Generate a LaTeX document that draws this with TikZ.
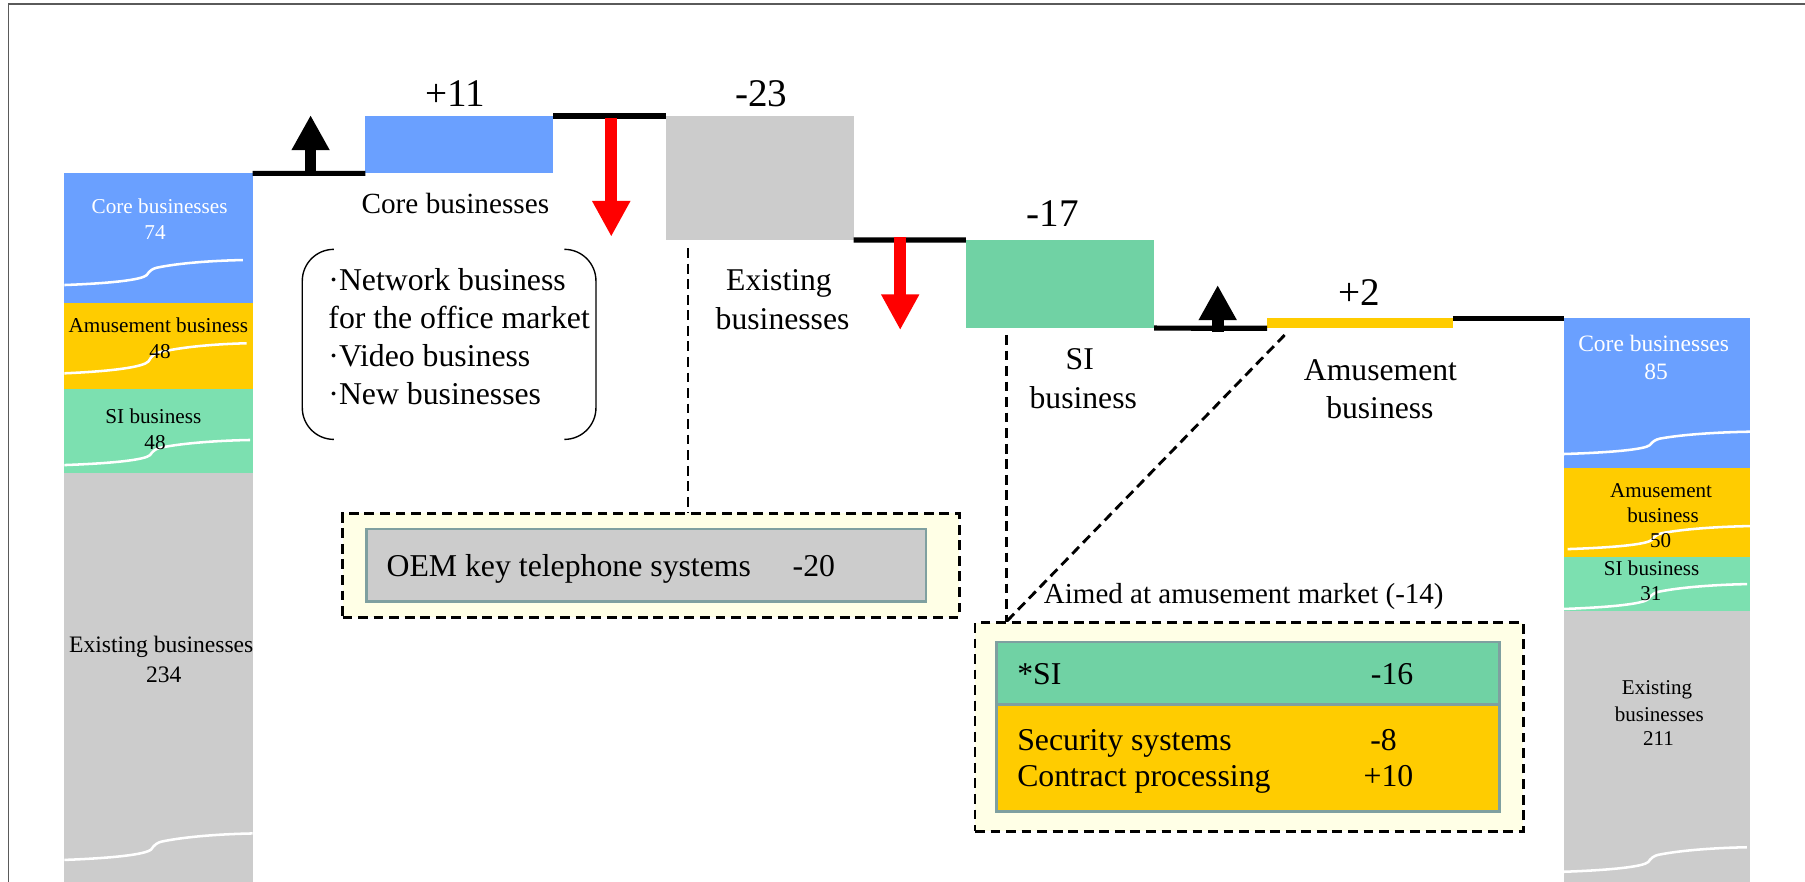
\documentclass[tikz,border=0pt]{standalone}
\usepackage{fontspec}
\setmainfont{Liberation Serif}
\usetikzlibrary{arrows.meta}
\definecolor{cblue}{RGB}{106,160,255}
\definecolor{cyel}{RGB}{255,204,0}
\definecolor{cgrnbar}{RGB}{124,224,176}
\definecolor{cgrn}{RGB}{112,210,164}
\definecolor{cgry}{RGB}{204,204,204}
\definecolor{cred}{RGB}{255,0,0}
\definecolor{cpale}{RGB}{255,255,230}
\definecolor{cbord}{RGB}{127,160,160}
\definecolor{cframe}{RGB}{90,90,90}
\newcommand\fsz[1]{\fontsize{#1}{#1}\selectfont}
\newcommand\rect[6]{\node[barbox, fill=#6, minimum width={(#4-#2)*1pt}, minimum height={(#5-#3)*1pt}] (#1) at (#2,#3) {};}
\newcommand\brk[4]{\draw[brkline, shift={(#1,#2)}, xscale=#3/155, yscale=#4/22] (0,0) .. controls (40,-1.5) and (67,-4.5) .. (71.5,-8.7) .. controls (74,-12.5) and (76.5,-14.3) .. (80,-15.2) .. controls (100,-19.5) and (130,-21.5) .. (155,-22);}
\begin{document}
\begin{tikzpicture}[x=1pt,y=-1pt,
  every node/.style={inner sep=0pt,outer sep=0pt},
  barbox/.style={anchor=north west, draw=none},
  txt/.style={anchor=base},
  ltxt/.style={anchor=base west},
  stepln/.style={line width=4.5pt, black},
  brkline/.style={white, line width=2.2pt},
  dsh/.style={line width=2.5pt, dash pattern=on 8.5pt off 5pt},
  dashbox/.style={anchor=north west, draw=black, fill=cpale, dsh},
  innerbox/.style={anchor=north west, draw=cbord, line width=2.2pt},
  uparr/.style={black, line width=10pt, -{Triangle[width=31pt,length=30.5pt]}},
  dnarr/.style={cred, line width=10.5pt, -{Triangle[width=31pt,length=31pt]}},
  bigf/.style={font=\fsz{34}},
  labf/.style={font=\fsz{27.5}}]
\useasboundingbox (0,0) rectangle (1568,766);
\clip (0,0) rectangle (1568,766);
% frame
\draw[cframe, line width=1.5pt] (7.5,770) -- (7.5,3.7) -- (1570,3.7);
% bars
\rect{lcore}{55.9}{150.6}{219.4}{263.5}{cblue}
\rect{lamu}{55.9}{263.5}{219.4}{338.2}{cyel}
\rect{lsi}{55.9}{338.2}{219.4}{411.2}{cgrnbar}
\rect{lex}{55.9}{411.2}{219.4}{770}{cgry}
\rect{core}{317.5}{100.8}{480.4}{150.6}{cblue}
\rect{exist}{578.4}{100.8}{741.6}{208.5}{cgry}
\rect{si}{839}{208.5}{1002.5}{285}{cgrn}
\rect{amuse}{1100.7}{276.5}{1262}{285.2}{cyel}
\rect{rcore}{1358.4}{276.5}{1520.3}{406.3}{cblue}
\rect{ramu}{1358.4}{406.3}{1520.3}{483.6}{cyel}
\rect{rsi}{1358.4}{483.6}{1520.3}{530.5}{cgrnbar}
\rect{rex}{1358.4}{530.5}{1520.3}{770}{cgry}
% break marks
\brk{55.9}{247.6}{155}{21.7}
\brk{55.9}{324.3}{158.4}{26.1}
\brk{55.9}{404}{161.3}{21.8}
\brk{55.9}{747}{163.5}{23}
\brk{1358.4}{394.4}{162}{19.4}
\brk{1361.7}{477}{158.6}{20}
\brk{1358.4}{529}{159.3}{21.6}
\brk{1358.4}{757.3}{159}{21.3}
% left bar texts
\node[txt, white, font=\fsz{18.4}] (lt1) at (138.7,185.2) {Core businesses};
\node[txt, white, font=\fsz{18.4}] (lt2) at (134.7,207.8) {74};
\node[txt, font=\fsz{18.4}] (lt3) at (137.5,288.5) {Amusement business};
\node[txt, font=\fsz{18.4}] (lt4) at (139,311.8) {48};
\node[txt, font=\fsz{18.4}] (lt5) at (133.2,367.5) {SI business};
\node[txt, font=\fsz{18.4}] (lt6) at (134.7,390.9) {48};
\node[txt, font=\fsz{20.5}] (lt7) at (140.1,566.5) {Existing businesses};
\node[txt, font=\fsz{20.5}] (lt8) at (142.3,592.5) {234};
% right bar texts
\node[txt, white, font=\fsz{20.4}] (rt1) at (1436.5,305.6) {Core businesses};
\node[txt, white, font=\fsz{20.4}] (rt2) at (1438.6,329.5) {85};
\node[txt, font=\fsz{18.3}] (rt3) at (1443,431.8) {Amusement};
\node[txt, font=\fsz{18.3}] (rt4) at (1444.7,454.2) {business};
\node[txt, font=\fsz{18.3}] (rt5) at (1442.5,475.8) {50};
\node[txt, font=\fsz{18.3}] (rt6) at (1434.8,500.1) {SI business};
\node[txt, font=\fsz{18.3}] (rt7) at (1434.1,522) {31};
\node[txt, font=\fsz{18.3}] (rt8) at (1439.5,603.6) {Existing};
\node[txt, font=\fsz{18.3}] (rt9) at (1441.4,626.4) {businesses};
\node[txt, font=\fsz{18.3}] (rt10) at (1440.8,647.4) {211};
% step lines
\draw[stepln] (lcore.north east) -- (core.south west);
\draw[stepln, yshift=-1.6pt] (core.north east) -- (exist.north west);
\draw[stepln, yshift=2.5pt] (exist.south east) -- (si.north west);
\draw[stepln, yshift=-2.8pt] (si.south east) -- (amuse.south west);
\draw[stepln, yshift=-2.2pt] (amuse.north east) -- (rcore.north west);
% arrows
\coordinate (a1s) at (269.8,151.5);
\coordinate (a1t) at (269.8,100);
\draw[uparr, line width=9.5pt] (a1s) -- (a1t);
\coordinate (a2s) at (531,102.8);
\coordinate (a2t) at (531,205.6);
\draw[dnarr] (a2s) -- (a2t);
\coordinate (a3s) at (782,206);
\coordinate (a3t) at (782,286.7);
\draw[dnarr, line width=10pt] (a3s) -- (a3t);
\coordinate (a4s) at (1057.8,288.5);
\coordinate (a4t) at (1057.8,247.6);
\draw[uparr, line width=10.5pt] (a4s) -- (a4t);
% waterfall numbers and labels
\node[txt, bigf] (n1) at (395.6,92.7) {+11};
\node[txt, bigf] (n2) at (661.2,92.7) {-23};
\node[txt, bigf] (n3) at (914.4,196.9) {-17};
\node[txt, bigf] (n4) at (1180.8,265) {+2};
\node[txt, font=\fsz{25.4}] (lb1) at (395.6,185.3) {Core businesses};
\node[txt, labf] (lb2a) at (676.7,252.5) {Existing};
\node[txt, labf] (lb2b) at (679.8,286) {businesses};
\node[txt, labf] (lb3a) at (938,321.4) {SI};
\node[txt, labf] (lb3b) at (941,354.7) {business};
\node[txt, labf] (lb4a) at (1199.2,330.7) {Amusement};
\node[txt, labf] (lb4b) at (1198.7,363.4) {business};
% bracket list
\draw[line width=1.2pt, rounded corners=27.4pt] (290,216.6) -- (262.6,216.6) -- (262.6,381.7) -- (290,381.7);
\draw[line width=1.2pt, rounded corners=27.4pt] (490.4,216.6) -- (517.7,216.6) -- (517.7,381.7) -- (490.4,381.7);
\node[ltxt, font=\fsz{27.6}] (bl1) at (285.3,252) {·Network business};
\node[ltxt, font=\fsz{27.6}] (bl2) at (285.3,285.2) {for the office market};
\node[ltxt, font=\fsz{27.6}] (bl3) at (285.3,318.6) {·Video business};
\node[ltxt, font=\fsz{27.6}] (bl4) at (285.3,351.8) {·New businesses};
% OEM box
\node[dashbox, minimum width=535.6pt, minimum height=90.3pt] (oemout) at (297.6,446) {};
\node[innerbox, fill=cgry, minimum width=485.7pt, minimum height=63pt] (oemin) at (318.6,459.7) {};
\node[ltxt, font=\fsz{27.6}] (oemtxt) at (335.8,501) {\makebox[389.6pt][l]{OEM key telephone systems\hfill-20}};
% SI box
\node[dashbox, minimum width=476.4pt, minimum height=181pt] (siout) at (847,541) {};
\node[innerbox, fill=cgrn, minimum width=437pt, minimum height=54.5pt] (sitop) at (865.8,557.7) {};
\node[innerbox, fill=cyel, minimum width=437pt, minimum height=92.6pt] (sibot) at (865.8,612.2) {};
\node[ltxt, font=\fsz{27.6}] (si1) at (883.7,594.2) {\makebox[344pt][l]{*SI\hfill-16}};
\node[ltxt, font=\fsz{27.6}] (si2) at (883.7,651.6) {\makebox[329.7pt][l]{Security systems\hfill-8}};
\node[ltxt, font=\fsz{27.6}] (si3) at (883.7,683.4) {\makebox[344pt][l]{Contract processing\hfill+10}};
\node[ltxt, font=\fsz{25.2}] (aim) at (906.9,524.1) {Aimed at amusement market (-14)};
% dashed connectors
\coordinate (d1a) at (597.7,215.6);
\draw[dsh] (d1a) -- (d1a |- oemout.north);
\coordinate (d2a) at (874.3,291);
\coordinate (d2b) at (874.3,540);
\draw[dsh] (d2a) -- (d2b);
\coordinate (d3a) at (1116,291);
\draw[dsh] (d3a) -- (d2b);
\end{tikzpicture}
\end{document}
